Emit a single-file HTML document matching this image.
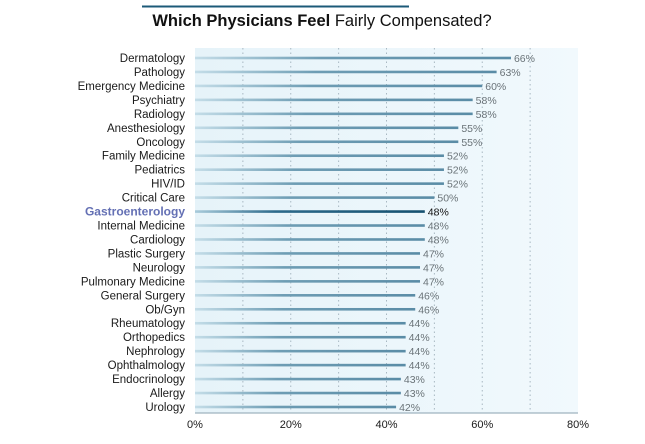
<!DOCTYPE html>
<html><head><meta charset="utf-8"><style>
body{margin:0;background:#fff;width:645px;height:439px;overflow:hidden;font-family:"Liberation Sans",sans-serif}
</style></head><body>
<svg width="645" height="439" xmlns="http://www.w3.org/2000/svg">
<defs>
<linearGradient id="bg" x1="0" x2="1" y1="0" y2="0"><stop offset="0" stop-color="#e6f3f9"/><stop offset="1" stop-color="#f1f9fd"/></linearGradient>
<linearGradient id="bar" x1="0" x2="1" y1="0" y2="0"><stop offset="0" stop-color="#c4dde8"/><stop offset="0.4" stop-color="#6e9db4"/><stop offset="1" stop-color="#5a8ca6"/></linearGradient>
<linearGradient id="barH" x1="0" x2="1" y1="0" y2="0"><stop offset="0" stop-color="#a9cbdb"/><stop offset="0.35" stop-color="#2d6a8b"/><stop offset="1" stop-color="#15506f"/></linearGradient>
</defs>
<line x1="142" y1="6.5" x2="409" y2="6.5" stroke="#1c5a78" stroke-width="2"/>
<text x="322" y="26" text-anchor="middle" font-size="16.5" fill="#111"><tspan font-weight="bold">Which Physicians Feel</tspan> Fairly Compensated?</text>
<rect x="195" y="48" width="383" height="365" fill="url(#bg)"/>
<g id="grid"></g><g id="bars"></g><g id="labels"></g>
<line x1="195" y1="413" x2="578" y2="413" stroke="#9fb3bf" stroke-width="1.2"/>
<g id="ticks"></g>
</svg>
<script>
const categories=["Dermatology","Pathology","Emergency Medicine","Psychiatry","Radiology","Anesthesiology","Oncology","Family Medicine","Pediatrics","HIV/ID","Critical Care","Gastroenterology","Internal Medicine","Cardiology","Plastic Surgery","Neurology","Pulmonary Medicine","General Surgery","Ob/Gyn","Rheumatology","Orthopedics","Nephrology","Ophthalmology","Endocrinology","Allergy","Urology"];
const values=[66,63,60,58,58,55,55,52,52,52,50,48,48,48,47,47,47,46,46,44,44,44,44,43,43,42];
const tickValues=[0,20,40,60,80];
const tickLabels=["0%","20%","40%","60%","80%"];
const highlight="Gastroenterology";
const NS="http://www.w3.org/2000/svg";
const x=v=>195+v*383/80;
const y=i=>58+i*13.96;
function mk(t,a,p){const e=document.createElementNS(NS,t);for(const k in a)e.setAttribute(k,a[k]);document.getElementById(p).appendChild(e);return e;}
for(let g=10;g<80;g+=10){const l=mk("line",{x1:x(g),x2:x(g),y1:48,y2:413,stroke:"#a8b8c2","stroke-width":1,"stroke-dasharray":"1.5,3"},"grid");

}
categories.forEach((c,i)=>{const h=c===highlight;
const b=mk("rect",{x:195,y:y(i)-1.3,width:x(values[i])-195,height:2.6,fill:h?"url(#barH)":"url(#bar)"},"bars");


const t=mk("text",{x:185,y:y(i)+4,"text-anchor":"end","font-size":h?"12":"11.5",fill:h?"#6470b4":"#1a1a1a","font-weight":h?"bold":"normal"},"labels");t.textContent=c;


const v=mk("text",{x:x(values[i])+3,y:y(i)+4,"font-size":"10.5",fill:h?"#111":"#6a7378"},"labels");v.textContent=values[i]+"%";

});
tickValues.forEach((t,i)=>{const e=mk("text",{x:x(t),y:428,"text-anchor":"middle","font-size":"11",fill:"#1a1a1a"},"ticks");e.textContent=tickLabels[i];

});
</script>
</body></html>
